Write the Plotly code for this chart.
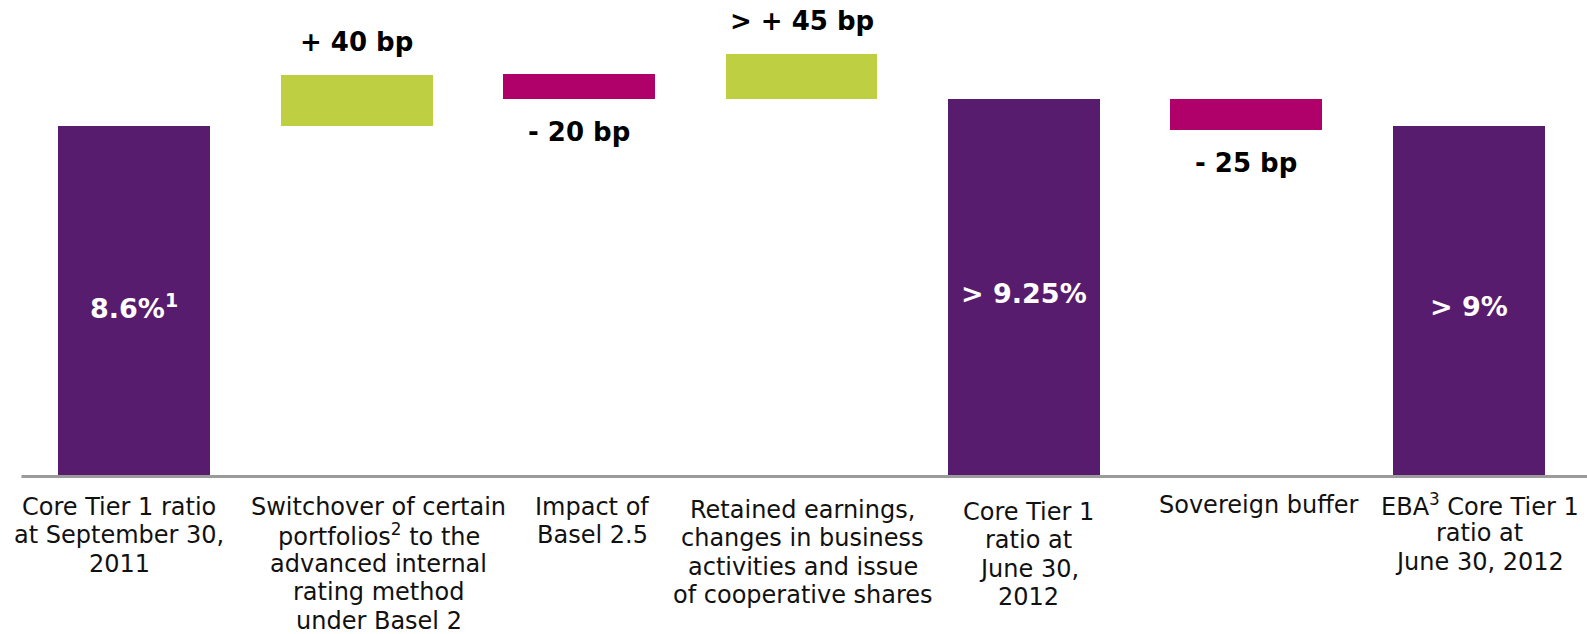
import plotly.graph_objects as go

# ---- data ----
categories = [
    "Core Tier 1 ratio<br>at September 30,<br>2011",
    "Switchover of certain<br>portfolios<sup>2</sup> to the<br>advanced internal<br>rating method<br>under Basel 2",
    "Impact of<br>Basel 2.5",
    "Retained earnings,<br>changes in business<br>activities and issue<br>of cooperative shares",
    "Core Tier 1<br>ratio at<br>June 30,<br>2012",
    "Sovereign buffer",
    "EBA<sup>3</sup> Core Tier 1<br>ratio at<br>June 30, 2012",
]
bar_kind = ["total", "increase", "decrease", "increase", "total", "decrease", "total"]
# drawn (schematic) bar extents, in % on the hidden axis
bar_bottom = [0.0, 8.6, 9.25, 9.25, 0.0, 8.5, 0.0]
bar_top = [8.6, 9.85, 9.88, 10.37, 9.25, 9.25, 8.6]
value_labels = ["8.6%<sup>1</sup>", "+ 40 bp", "- 20 bp", "> + 45 bp", "> 9.25%", "- 25 bp", "> 9%"]

# ---- styling / layout helpers ----
colors = {"total": "#571C6E", "increase": "#BFCF42", "decrease": "#B0006A"}
label_dx = [-15, 22, 13, 1, 5, 12, 11]      # horizontal nudge of category labels (px)
label_y0 = [32, 32, 32, 35, 37, 30, 30]     # first-line centre below baseline (px)
line_gap = 28.4

x = list(range(len(categories)))
heights = [t - b for t, b in zip(bar_top, bar_bottom)]

fig = go.Figure()
fig.add_trace(go.Bar(
    x=x, y=heights, base=bar_bottom, width=0.683,
    marker=dict(color=[colors[k] for k in bar_kind], line=dict(width=0)),
    hoverinfo="skip", showlegend=False,
))

ann = []
# value labels
for i, (k, lab) in enumerate(zip(bar_kind, value_labels)):
    if k == "total":
        ann.append(dict(x=i, y=bar_top[i] / 2, text=f"<b>{lab}</b>", showarrow=False,
                        yanchor="middle", yshift=-6,
                        font=dict(family="DejaVu Sans", size=27, color="white")))
    elif k == "increase":
        ann.append(dict(x=i, y=bar_top[i], text=f"<b>{lab}</b>", showarrow=False,
                        yanchor="middle", yshift=33,
                        font=dict(family="DejaVu Sans", size=26, color="black")))
    else:
        ann.append(dict(x=i, y=bar_bottom[i], text=f"<b>{lab}</b>", showarrow=False,
                        yanchor="middle", yshift=-33,
                        font=dict(family="DejaVu Sans", size=26, color="black")))

# category labels, one annotation per line for tight line spacing
for i, cat in enumerate(categories):
    for j, line in enumerate(cat.split("<br>")):
        ann.append(dict(x=i, y=0, text=line, showarrow=False, xshift=label_dx[i],
                        yanchor="middle", yshift=-(label_y0[i] + j * line_gap),
                        font=dict(family="DejaVu Sans", size=24, color="#111111")))

plot_h = 475
px_per_pct = 40.6
base_line_y = -1.6 / plot_h
fig.update_layout(
    width=1587, height=634,
    margin=dict(l=23, r=7, t=0, b=634 - plot_h, pad=0),
    paper_bgcolor="white", plot_bgcolor="white",
    xaxis=dict(range=[-0.5, len(categories) - 0.5], visible=False, fixedrange=True),
    yaxis=dict(range=[0, plot_h / px_per_pct], visible=False, fixedrange=True),
    annotations=ann,
    shapes=[dict(type="line", xref="paper", yref="paper", x0=-0.001, x1=1.006,
                 y0=base_line_y, y1=base_line_y,
                 line=dict(color="#9B9B9B", width=3), layer="above")],
    bargap=0,
)
fig.write_html("out.html", config={"displayModeBar": False},
               post_script="document.body.style.margin='0';")
